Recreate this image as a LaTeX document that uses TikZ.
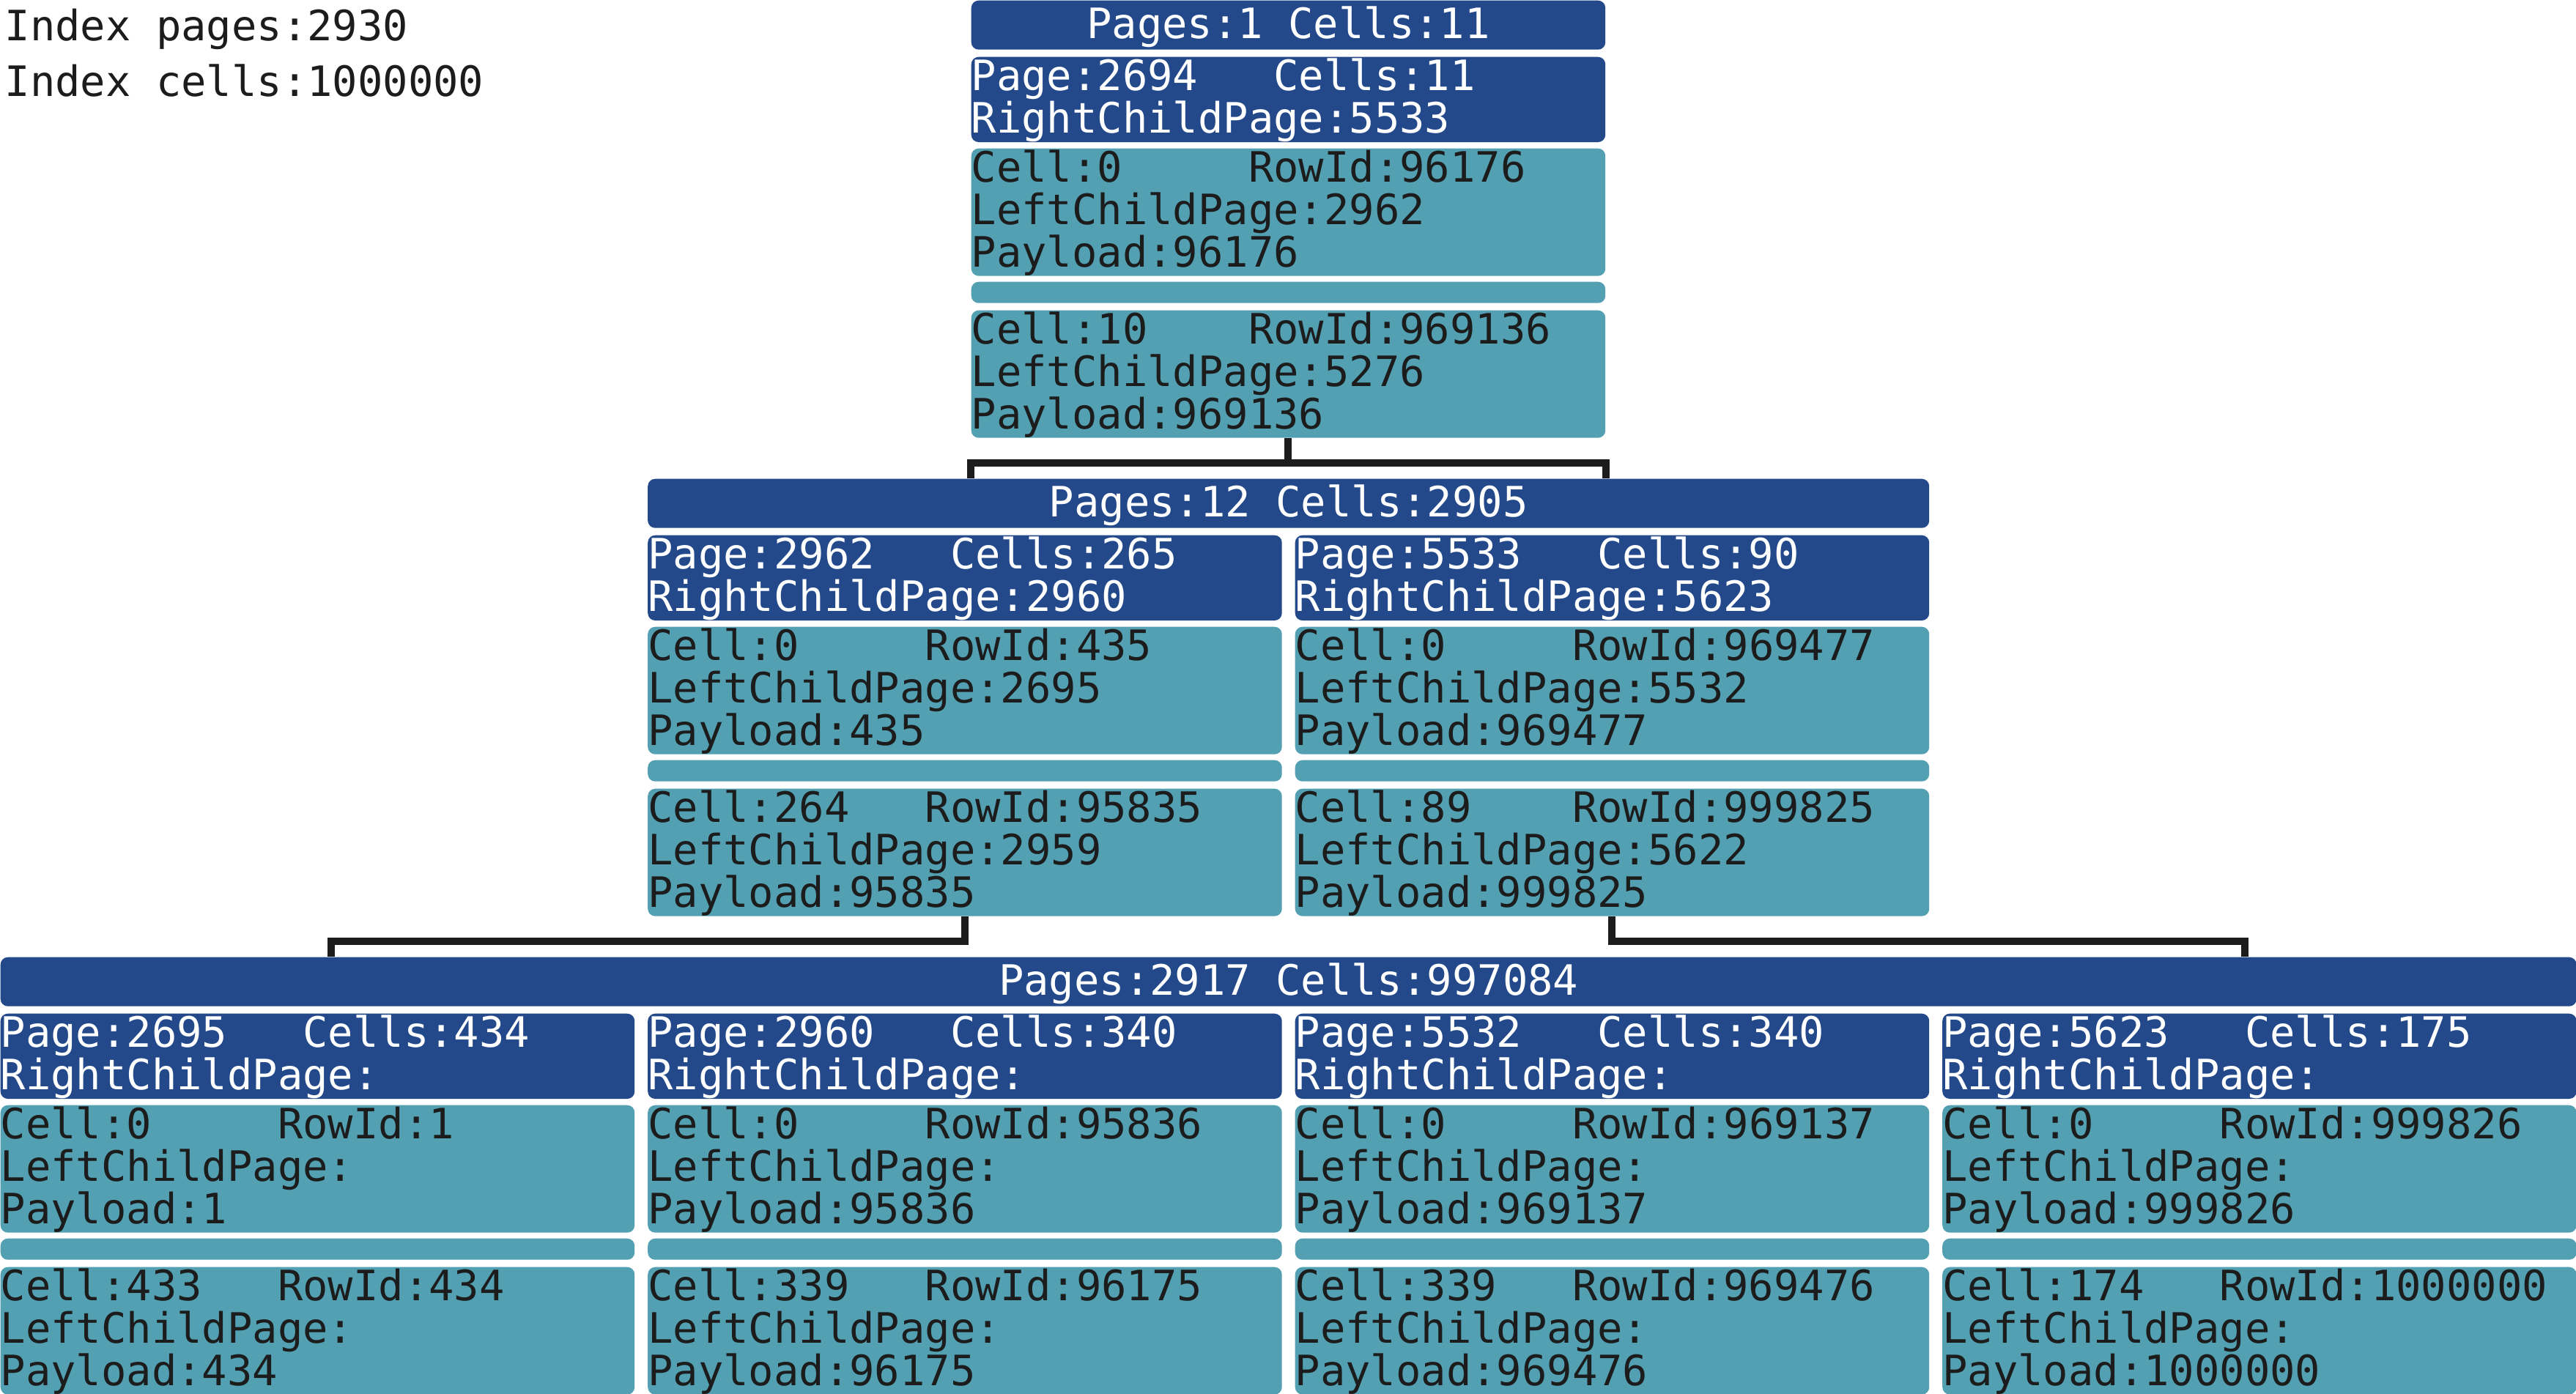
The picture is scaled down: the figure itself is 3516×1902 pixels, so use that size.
\documentclass[tikz,border=0pt]{standalone}
\usepackage{fontspec}
\newfontfamily\treemono{DejaVu Sans Mono}
\newcommand\treefont{\treemono\fontsize{16.26pt}{16.51pt}\selectfont}
\newlength\cw
\AtBeginDocument{\settowidth{\cw}{\treefont 0}}
\newcommand\pagepair[2]{\makebox[12\cw][l]{#1}#2}
\newcommand\rowpair[2]{\makebox[11\cw][l]{#1}#2}

\definecolor{headblue}{RGB}{35,73,139}
\definecolor{cellteal}{RGB}{82,160,178}
\definecolor{inkgray}{RGB}{28,28,28}

\tikzset{
  headbox/.style = {anchor = north west, fill = headblue, text = white,
    rounded corners = 1mm, inner sep = 0pt, text height = 5.2mm,
    text depth = 1.5mm, font = \treefont},
  pagebox/.style = {anchor = north west, fill = headblue, text = white,
    rounded corners = 1mm, inner sep = 0pt, text width = 86.55mm,
    align = left, minimum height = 11.6mm, font = \treefont,
    execute at begin node = {\rule{0pt}{4.6mm}}},
  cellbox/.style = {pagebox, fill = cellteal, text = inkgray,
    minimum height = 17.2mm},
  sepbox/.style = {anchor = north west, fill = cellteal, rounded corners = 1mm,
    inner sep = 0pt, minimum width = 86.55mm, minimum height = 2.9mm},
  link/.style = {draw = inkgray, line width = 1mm}
}

% one b-tree page: name, x, y, page line, first cell, last cell
\newcommand\btpage[6]{%
  \node[pagebox] (#1) at (#2, #3) {#4};
  \node[cellbox] (#1-first) at (#2, #3 + 125) {#5};
  \node[sepbox] (#1-sep) at (#2, #3 + 307) {};
  \node[cellbox] (#1-last) at (#2, #3 + 346) {#6};
}

\begin{document}
\begin{tikzpicture}[x = 0.1mm, y = -0.1mm]
  \useasboundingbox (0, 0) rectangle (3516, 1902);

  \node[anchor = base west, font = \treefont, text = inkgray, inner sep = 0pt]
    (idxpages) at (6, 55) {Index pages:2930};
  \node[anchor = base west, font = \treefont, text = inkgray, inner sep = 0pt]
    (idxcells) at (6, 131) {Index cells:1000000};

  % level 1
  \node[headbox, minimum width = 86.55mm] (lvlone) at (1325, 0) {Pages:1 Cells:11};
  \btpage{root}{1325}{77}{\pagepair{Page:2694}{Cells:11}\\RightChildPage:5533}
    {\rowpair{Cell:0}{RowId:96176}\\LeftChildPage:2962\\Payload:96176}
    {\rowpair{Cell:10}{RowId:969136}\\LeftChildPage:5276\\Payload:969136}

  % level 2
  \node[headbox, minimum width = 174.9mm] (lvltwo) at (883.5, 653) {Pages:12 Cells:2905};
  \btpage{pa}{883.5}{730}{\pagepair{Page:2962}{Cells:265}\\RightChildPage:2960}
    {\rowpair{Cell:0}{RowId:435}\\LeftChildPage:2695\\Payload:435}
    {\rowpair{Cell:264}{RowId:95835}\\LeftChildPage:2959\\Payload:95835}
  \btpage{pb}{1767}{730}{\pagepair{Page:5533}{Cells:90}\\RightChildPage:5623}
    {\rowpair{Cell:0}{RowId:969477}\\LeftChildPage:5532\\Payload:969477}
    {\rowpair{Cell:89}{RowId:999825}\\LeftChildPage:5622\\Payload:999825}

  % level 3
  \node[headbox, minimum width = 351.6mm] (lvlthree) at (0, 1306) {Pages:2917 Cells:997084};
  \btpage{la}{0}{1383}{\pagepair{Page:2695}{Cells:434}\\RightChildPage:}
    {\rowpair{Cell:0}{RowId:1}\\LeftChildPage:\\Payload:1}
    {\rowpair{Cell:433}{RowId:434}\\LeftChildPage:\\Payload:434}
  \btpage{lb}{883.5}{1383}{\pagepair{Page:2960}{Cells:340}\\RightChildPage:}
    {\rowpair{Cell:0}{RowId:95836}\\LeftChildPage:\\Payload:95836}
    {\rowpair{Cell:339}{RowId:96175}\\LeftChildPage:\\Payload:96175}
  \btpage{lc}{1767}{1383}{\pagepair{Page:5532}{Cells:340}\\RightChildPage:}
    {\rowpair{Cell:0}{RowId:969137}\\LeftChildPage:\\Payload:969137}
    {\rowpair{Cell:339}{RowId:969476}\\LeftChildPage:\\Payload:969476}
  \btpage{ld}{2650.5}{1383}{\pagepair{Page:5623}{Cells:175}\\RightChildPage:}
    {\rowpair{Cell:0}{RowId:999826}\\LeftChildPage:\\Payload:999826}
    {\rowpair{Cell:174}{RowId:1000000}\\LeftChildPage:\\Payload:1000000}

  % links
  \coordinate (leftdrop) at (452, 1306);
  \coordinate (rightdrop) at (3064, 1306);
  \draw[link] (root-last.south) -- ++(0, 34) -| (lvltwo.north -| root-last.west);
  \draw[link] (root-last.south) -- ++(0, 34) -| (lvltwo.north -| root-last.east);
  \draw[link] (pa-last.south) -- ++(0, 34) -| (leftdrop);
  \draw[link] (pb-last.south) -- ++(0, 34) -| (rightdrop);
\end{tikzpicture}
\end{document}
